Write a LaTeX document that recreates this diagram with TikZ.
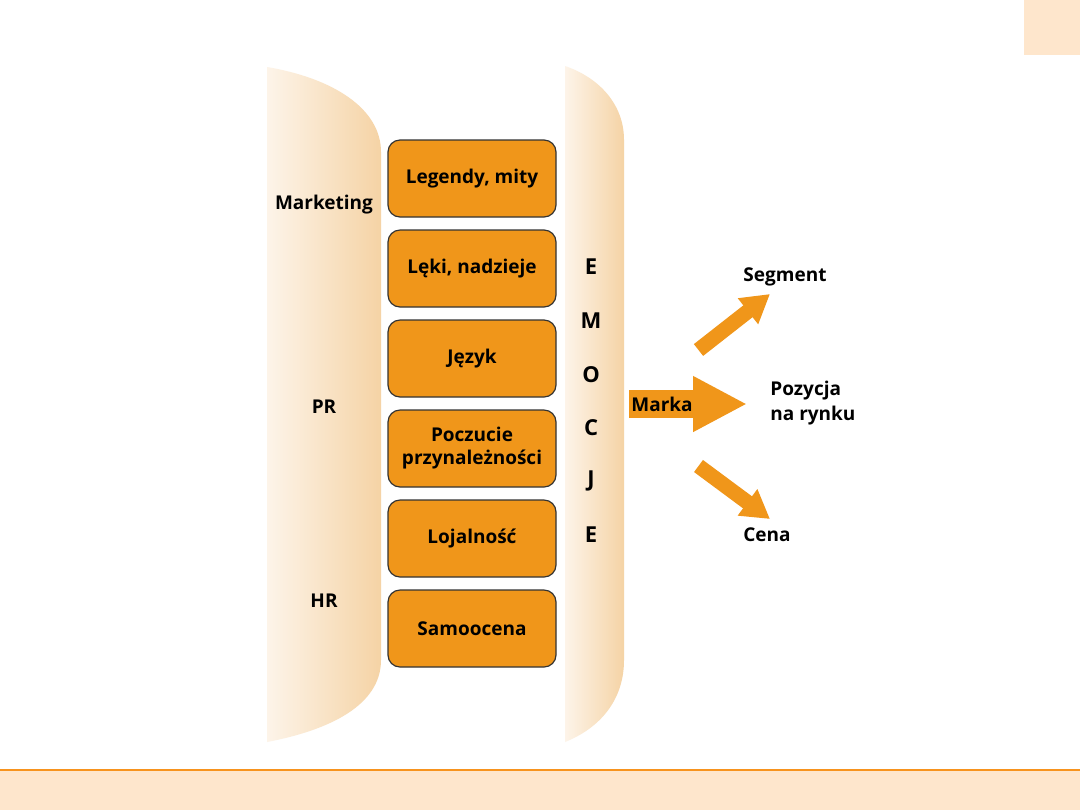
\documentclass[tikz,border=0pt]{standalone}
\usepackage{fontspec}
\setsansfont{Open Sans}
\usetikzlibrary{arrows.meta}
\definecolor{boxorange}{HTML}{F0961A}
\definecolor{peach}{HTML}{FEE6CC}
\definecolor{bandline}{HTML}{F7931E}
\definecolor{wallleft}{HTML}{FDF4E9}
\definecolor{wallright}{HTML}{F5D3A5}
\tikzset{
  wall/.style={left color=wallleft, right color=wallright},
  factorbox/.style={draw=black!80, line width=0.6pt, fill=boxorange, rounded corners=6pt,
    minimum width=84pt, minimum height=38.5pt, align=center, inner sep=2pt,
    font=\sffamily\bfseries\fontsize{9.5}{11.5}\selectfont},
  sidetag/.style={font=\sffamily\bfseries\fontsize{9.5}{12.5}\selectfont, inner sep=1pt},
  emoletter/.style={font=\sffamily\bfseries\fontsize{11}{13}\selectfont, inner sep=1pt},
  blockarrow/.style={draw=boxorange, line width=7.5pt, line cap=butt,
    -{Triangle[length=14pt,width=15.5pt]}},
  markaarrow/.style={draw=boxorange, line width=14pt, line cap=butt,
    -{Triangle[length=27pt,width=26pt]}}
}
\begin{document}
\begin{tikzpicture}[x=0.5pt,y=-0.5pt]
% page and frame
\useasboundingbox (0,0) rectangle (1080,810);
\fill[white] (0,0) rectangle (1080,810);
\fill[peach] (1024,0) rectangle (1080,55);
\fill[peach] (0,770) rectangle (1080,810);
\draw[bandline, line width=0.8pt] (0,770) -- (1080,770);
% shaded walls
\shade[wall] (267,67) .. controls (332,78) and (381,108) .. (381,152) -- (381,660)
  .. controls (381,705) and (330,730) .. (267,742) -- cycle;
\shade[wall] (565,66) .. controls (600,78) and (624,105) .. (624,140) -- (624,660)
  .. controls (624,700) and (600,728) .. (565,742) -- cycle;
% factor boxes
\foreach \txt [count=\i] in {{Legendy, mity},{Lęki, nadzieje},{Język},
    {Poczucie\\przynależności},{Lojalność},{Samoocena}}
  \node[factorbox] (f\i) at (472,88.5+90*\i) {\txt};
% side tags
\node[sidetag] (marketing) at (324,205) {Marketing};
\node[sidetag] (pr) at (324,407) {PR};
\node[sidetag] (hr) at (324,601) {HR};
% EMOCJE
\foreach \ch [count=\i from 0] in {E,M,O,C,J,E}
  \node[emoletter] (emo\i) at (591,267+53.6*\i) {\ch};
% arrows
\coordinate (markastart) at (629,404);
\coordinate (markatip) at (747,404);
\draw[markaarrow] (markastart) -- (markatip);
\node[sidetag] (marka) at (662,404) {Marka};
\node[sidetag] (segment) at (785,277) {Segment};
\node[sidetag, anchor=west, align=left] (pozycja) at (768,403) {Pozycja\\na rynku};
\node[sidetag] (cena) at (767,535) {Cena};
\coordinate (segstart) at (698.5,350);
\coordinate (segtip) at (770,294);
\coordinate (cenastart) at (698.5,466);
\coordinate (cenatip) at (770,519);
\draw[blockarrow] (segstart) -- (segtip);
\draw[blockarrow] (cenastart) -- (cenatip);
\end{tikzpicture}
\end{document}
